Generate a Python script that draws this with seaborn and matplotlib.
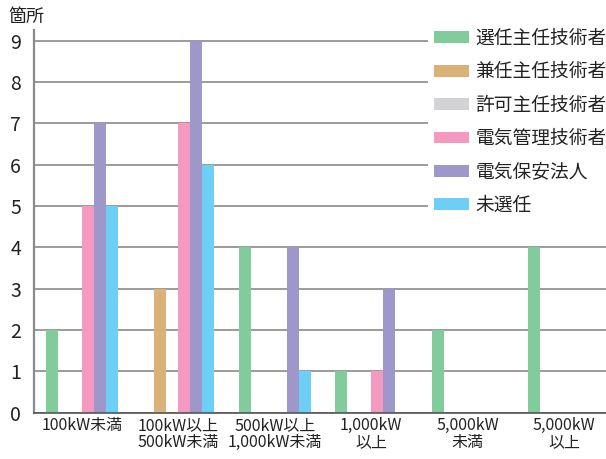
import pandas as pd
import matplotlib
matplotlib.use("Agg")
import matplotlib.pyplot as plt
import seaborn as sns
from matplotlib.patches import Rectangle

sns.set_style("white")
plt.rcParams['font.family'] = ['Noto Sans CJK JP', 'DejaVu Sans']

# ---------------- DATA ---------------- #
categories = ["100kW未満", "100kW以上\n500kW未満", "500kW以上\n1,000kW未満",
              "1,000kW\n以上", "5,000kW\n未満", "5,000kW\n以上"]
series = ["選任主任技術者", "兼任主任技術者", "許可主任技術者",
          "電気管理技術者", "電気保安法人", "未選任"]
senin = [2, 0, 4, 1, 2, 4]
kennin = [0, 3, 0, 0, 0, 0]
kyoka = [0, 0, 0, 0, 0, 0]
kanri = [5, 7, 0, 1, 0, 0]
houjin = [7, 9, 4, 3, 0, 0]
misenin = [5, 6, 1, 0, 0, 0]
colors = ["#82cb9b", "#dab277", "#d3d3d5", "#f49ac1", "#9e97c9", "#6dcff6"]

rows = []
for name, vals in zip(series, [senin, kennin, kyoka, kanri, houjin, misenin]):
    for c, v in zip(categories, vals):
        rows.append({"規模": c, "種別": name, "箇所": v})
df = pd.DataFrame(rows)

# ---------------- PLOT ---------------- #
fig = plt.figure(figsize=(6.06, 4.59), dpi=100)
ax = fig.add_axes([33.5 / 606, 46.3 / 459, 1 - 33.5 / 606, 382.7 / 459])

sns.barplot(data=df, x="規模", y="箇所", hue="種別", order=categories,
            hue_order=series, palette=colors, width=0.745, linewidth=0,
            saturation=1, ax=ax)

ax.set_ylim(0, 9.26)
ax.set_xlim(-0.5, -0.5 + 572.5 / 96.5)
ax.set_yticks(range(10))
ax.yaxis.grid(True, color="#8a8a8a", linewidth=1.2)
ax.set_axisbelow(True)
ax.set_xlabel("")
ax.set_ylabel("")

ax.tick_params(axis="y", length=0, pad=9, labelsize=14, labelcolor="#222222")
ax.tick_params(axis="x", which="major", length=0, pad=3, labelsize=11.5,
               labelcolor="#222222")
ax.set_xticks([i + 0.5 for i in range(5)], minor=True)
ax.tick_params(axis="x", which="minor", direction="inout", length=15,
               width=1.2, color="#444444")
for lab in ax.get_xticklabels():
    lab.set_linespacing(1.0)

sns.despine(ax=ax)
ax.spines["left"].set_color("#8a8a8a")
ax.spines["left"].set_linewidth(1.6)
ax.spines["bottom"].set_color("#555555")
ax.spines["bottom"].set_linewidth(1.2)

fig.text(8 / 606, 1 - 17 / 459, "箇所", fontsize=13, color="#222222", va="center")

# white area behind the legend hides the gridlines
ax.add_patch(Rectangle((428 / 606, 1 - 240 / 459), 178 / 606, 218 / 459,
                       transform=fig.transFigure, facecolor="white",
                       edgecolor="none", zorder=4, clip_on=False))

leg = ax.legend(loc="upper left", bbox_to_anchor=(434 / 606, 1 - 28 / 459),
                bbox_transform=fig.transFigure, frameon=False,
                fontsize=13.5, handlelength=1.85, handleheight=0.6,
                handletextpad=0.35, labelspacing=0.66, borderpad=0,
                borderaxespad=0)
leg.set_zorder(6)
for t in leg.get_texts():
    t.set_color("#222222")

fig.savefig("out.png", dpi=100)
